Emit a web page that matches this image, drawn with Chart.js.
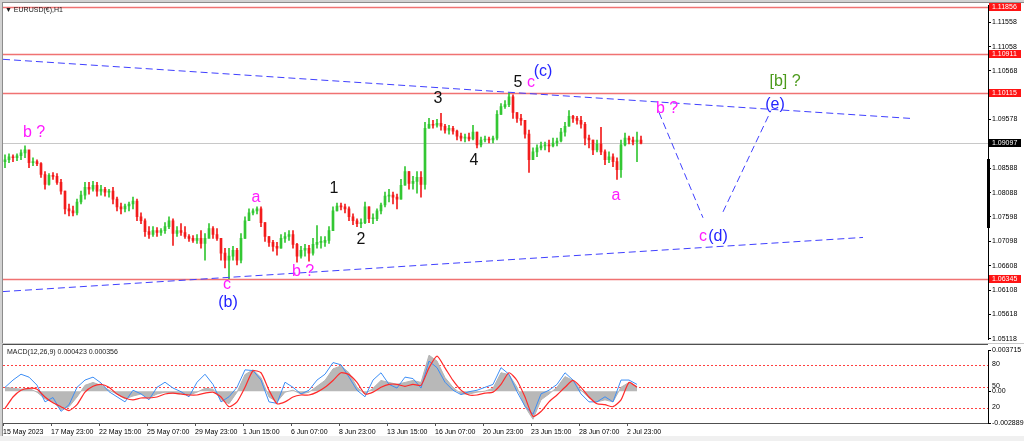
<!DOCTYPE html>
<html>
<head>
<meta charset="utf-8">
<title>EURUSD H1</title>
<script src="https://cdn.jsdelivr.net/npm/chart.js@4.4.1/dist/chart.umd.min.js"></script>
<style>
  html, body { margin: 0; padding: 0; }
  body { width: 1024px; height: 441px; overflow: hidden; position: relative; background: #fff;
         font-family: "Liberation Sans", Arial, sans-serif; }
  #priceChart { position: absolute; left: 0; top: 0; }
  #macdChart { position: absolute; left: 0; top: 345px; }
  .bar { position: absolute; }
  .cap { position: absolute; font-size: 7px; line-height: 8px; color: #1a1a1a; white-space: nowrap; }
</style>
</head>
<body>
<canvas id="priceChart" width="1024" height="345"></canvas>
<canvas id="macdChart" width="1024" height="96"></canvas>
<div class="bar" style="left:0;top:0;width:1024px;height:2px;background:#d2d2d2"></div>
<div class="bar" style="left:0;top:2px;width:1024px;height:1px;background:#8c8c8c"></div>
<div class="bar" style="left:0;top:0;width:2px;height:436px;background:#d2d2d2"></div>
<div class="bar" style="left:2px;top:2px;width:1px;height:434px;background:#8c8c8c"></div>
<div class="bar" style="left:0;top:343px;width:1024px;height:1px;background:#c8c8c8"></div>
<div class="bar" style="left:3px;top:344px;width:985px;height:1px;background:#505050"></div>
<div class="bar" style="left:0;top:436px;width:1024px;height:5px;background:#f0f0f0"></div>
<div class="bar" style="left:987px;top:159px;width:3px;height:69px;background:#000"></div>
<div class="cap" style="left:5px;top:6px">▼ EURUSD(€),H1</div>
<div class="cap" style="left:7px;top:348px">MACD(12,26,9) 0.000423 0.000356</div>

<script>
// price bars (each bar ~5 hours of the H1 chart)
const firstOpen = 1.0872;
const highs = [
  1.0886, 1.0888, 1.0886, 1.0888, 1.0896, 1.0904, 1.0892, 1.0880, 1.0876, 1.0870,
  1.0852, 1.0848, 1.0850, 1.0848, 1.0836, 1.0812, 1.0786, 1.0782, 1.0796, 1.0812,
  1.0830, 1.0830, 1.0832, 1.0830, 1.0824, 1.0820, 1.0816, 1.0820, 1.0800, 1.0788,
  1.0786, 1.0790, 1.0800, 1.0796, 1.0768, 1.0756, 1.0740, 1.0740, 1.0738, 1.0736,
  1.0748, 1.0760, 1.0756, 1.0740, 1.0746, 1.0740, 1.0724, 1.0722, 1.0724, 1.0732,
  1.0726, 1.0746, 1.0740, 1.0736, 1.0716, 1.0696, 1.0696, 1.0700, 1.0696, 1.0726,
  1.0760, 1.0776, 1.0776, 1.0780, 1.0780, 1.0748, 1.0720, 1.0712, 1.0708, 1.0724,
  1.0728, 1.0732, 1.0732, 1.0706, 1.0700, 1.0704, 1.0702, 1.0716, 1.0742, 1.0720,
  1.0720, 1.0740, 1.0780, 1.0788, 1.0788, 1.0786, 1.0780, 1.0766, 1.0756, 1.0756,
  1.0790, 1.0780, 1.0766, 1.0776, 1.0788, 1.0810, 1.0816, 1.0810, 1.0806, 1.0836,
  1.0862, 1.0852, 1.0842, 1.0852, 1.0852, 1.0952, 1.0960, 1.0956, 1.0958, 1.0970,
  1.0948, 1.0946, 1.0944, 1.0936, 1.0930, 1.0928, 1.0930, 1.0946, 1.0932, 1.0922,
  1.0924, 1.0922, 1.0924, 1.0976, 1.0990, 1.0996, 1.1012, 1.1008, 1.0972, 1.0968,
  1.0956, 1.0936, 1.0900, 1.0906, 1.0912, 1.0912, 1.0916, 1.0920, 1.0920, 1.0940,
  1.0952, 1.0976, 1.0966, 1.0964, 1.0964, 1.0952, 1.0926, 1.0916, 1.0916, 1.0942,
  1.0896, 1.0892, 1.0888, 1.0880, 1.0916, 1.0930, 1.0924, 1.0922, 1.0932, 1.0924
];
const lows = [
  1.0860, 1.0870, 1.0872, 1.0874, 1.0876, 1.0880, 1.0860, 1.0864, 1.0864, 1.0840,
  1.0816, 1.0824, 1.0836, 1.0826, 1.0806, 1.0766, 1.0762, 1.0762, 1.0764, 1.0786,
  1.0796, 1.0806, 1.0812, 1.0802, 1.0804, 1.0802, 1.0800, 1.0786, 1.0772, 1.0766,
  1.0770, 1.0772, 1.0776, 1.0752, 1.0746, 1.0720, 1.0716, 1.0720, 1.0720, 1.0722,
  1.0726, 1.0736, 1.0702, 1.0720, 1.0722, 1.0716, 1.0710, 1.0708, 1.0706, 1.0696,
  1.0672, 1.0722, 1.0716, 1.0712, 1.0672, 1.0656, 1.0634, 1.0672, 1.0662, 1.0666,
  1.0716, 1.0752, 1.0764, 1.0766, 1.0740, 1.0710, 1.0700, 1.0690, 1.0682, 1.0696,
  1.0708, 1.0712, 1.0696, 1.0668, 1.0676, 1.0680, 1.0670, 1.0682, 1.0696, 1.0696,
  1.0700, 1.0706, 1.0732, 1.0772, 1.0774, 1.0768, 1.0752, 1.0744, 1.0740, 1.0738,
  1.0746, 1.0748, 1.0746, 1.0752, 1.0766, 1.0780, 1.0790, 1.0786, 1.0776, 1.0796,
  1.0824, 1.0816, 1.0816, 1.0808, 1.0800, 1.0816, 1.0940, 1.0940, 1.0942, 1.0936,
  1.0930, 1.0928, 1.0928, 1.0916, 1.0914, 1.0912, 1.0914, 1.0916, 1.0900, 1.0902,
  1.0912, 1.0910, 1.0910, 1.0916, 1.0968, 1.0980, 1.0984, 1.0960, 1.0952, 1.0946,
  1.0920, 1.0850, 1.0876, 1.0882, 1.0896, 1.0896, 1.0892, 1.0902, 1.0904, 1.0912,
  1.0924, 1.0944, 1.0952, 1.0948, 1.0940, 1.0906, 1.0900, 1.0886, 1.0892, 1.0886,
  1.0866, 1.0870, 1.0862, 1.0836, 1.0840, 1.0904, 1.0908, 1.0906, 1.0872, 1.0908
];
const closes = [
  1.0876, 1.0882, 1.0880, 1.0884, 1.0890, 1.0896, 1.0870, 1.0872, 1.0868, 1.0846,
  1.0826, 1.0844, 1.0842, 1.0830, 1.0812, 1.0776, 1.0772, 1.0768, 1.0790, 1.0804,
  1.0820, 1.0816, 1.0824, 1.0812, 1.0816, 1.0810, 1.0812, 1.0796, 1.0780, 1.0776,
  1.0782, 1.0786, 1.0792, 1.0760, 1.0752, 1.0730, 1.0724, 1.0732, 1.0728, 1.0732,
  1.0740, 1.0752, 1.0726, 1.0732, 1.0728, 1.0720, 1.0716, 1.0712, 1.0716, 1.0706,
  1.0716, 1.0736, 1.0724, 1.0716, 1.0686, 1.0672, 1.0680, 1.0692, 1.0672, 1.0716,
  1.0752, 1.0768, 1.0772, 1.0776, 1.0748, 1.0720, 1.0708, 1.0700, 1.0696, 1.0716,
  1.0720, 1.0724, 1.0704, 1.0680, 1.0692, 1.0696, 1.0686, 1.0704, 1.0708, 1.0708,
  1.0712, 1.0732, 1.0772, 1.0782, 1.0780, 1.0776, 1.0760, 1.0752, 1.0746, 1.0748,
  1.0780, 1.0756, 1.0756, 1.0772, 1.0784, 1.0802, 1.0804, 1.0800, 1.0796, 1.0824,
  1.0852, 1.0828, 1.0832, 1.0840, 1.0826, 1.0940, 1.0948, 1.0946, 1.0950, 1.0944,
  1.0936, 1.0940, 1.0934, 1.0924, 1.0920, 1.0922, 1.0918, 1.0932, 1.0906, 1.0916,
  1.0918, 1.0916, 1.0920, 1.0968, 1.0984, 1.0988, 1.1004, 1.0972, 1.0960, 1.0956,
  1.0928, 1.0876, 1.0892, 1.0900, 1.0904, 1.0906, 1.0904, 1.0910, 1.0914, 1.0932,
  1.0944, 1.0964, 1.0960, 1.0956, 1.0948, 1.0920, 1.0916, 1.0896, 1.0908, 1.0892,
  1.0876, 1.0882, 1.0872, 1.0856, 1.0906, 1.0920, 1.0916, 1.0912, 1.0916, 1.09097
];

const priceTicks = [1.11558, 1.11058, 1.10568, 1.10078, 1.09578, 1.08588, 1.08088,
                    1.07598, 1.07098, 1.06608, 1.06108, 1.05618, 1.05118];
const levelPrices = [1.11856, 1.10911, 1.10115, 1.06345];
const lastPrice = closes[closes.length - 1];

const timeLabels = ["15 May 2023", "17 May 23:00", "22 May 15:00", "25 May 07:00", "29 May 23:00",
                    "1 Jun 15:00", "6 Jun 07:00", "8 Jun 23:00", "13 Jun 15:00", "16 Jun 07:00",
                    "20 Jun 23:00", "23 Jun 15:00", "28 Jun 07:00", "2 Jul 23:00"];
const barsPerLabel = 12;

// trend lines and the projected path, as (bar, price) pairs
const upperTrend = [{ x: 0, y: 1.1080 }, { x: 226.75, y: 1.0960 }];
const lowerTrend = [{ x: 0, y: 1.0608 }, { x: 215, y: 1.0718 }];
const pathDown = [{ x: 164, y: 1.0972 }, { x: 175, y: 1.0758 }];
const pathUp = [{ x: 180, y: 1.0770 }, { x: 192, y: 1.0976 }];

const MAGENTA = "#ff1aff", BLUE = "#2424ff", BLACK = "#111", GREEN = "#4c9a1c";
const waveLabels = [
  { text: "b ?", bar: 7.75, price: 1.0932, color: MAGENTA },
  { text: "a", bar: 63.25, price: 1.0800, color: MAGENTA },
  { text: "c", bar: 56, price: 1.0622, color: MAGENTA },
  { text: "(b)", bar: 56.25, price: 1.0586, color: BLUE },
  { text: "b ?", bar: 75, price: 1.0648, color: MAGENTA },
  { text: "1", bar: 82.75, price: 1.0818, color: BLACK },
  { text: "2", bar: 89.5, price: 1.0714, color: BLACK },
  { text: "3", bar: 108.75, price: 1.1000, color: BLACK },
  { text: "4", bar: 117.75, price: 1.0874, color: BLACK },
  { text: "5", bar: 128.75, price: 1.1032, color: BLACK },
  { text: "c", bar: 132, price: 1.1032, color: MAGENTA },
  { text: "(c)", bar: 135, price: 1.1056, color: BLUE },
  { text: "a", bar: 153.25, price: 1.0804, color: MAGENTA },
  { text: "b ?", bar: 166, price: 1.0980, color: MAGENTA },
  { text: "c", bar: 175, price: 1.0720, color: MAGENTA },
  { text: "(d)", bar: 178.75, price: 1.0720, color: BLUE },
  { text: "(e)", bar: 193, price: 1.0988, color: BLUE },
  { text: "[b] ?", bar: 195.5, price: 1.1034, color: GREEN }
];

// MACD panel, one value every 2 bars
const macdHist = [
  0.00035, 0.00026, 0.00018, 0.00026, -0.00009, -0.00070, -0.00097, -0.00167, -0.00141, -0.00053,
  0.00053, 0.00079, 0.00053, 0.00009, -0.00026, -0.00070, -0.00044, -0.00026, -0.00062, -0.00026,
  -0.00009, -0.00018, -0.00026, -0.00035, -0.00009, 0.00026, 0.00018, -0.00079, -0.00114, -0.00009,
  0.00150, 0.00194, 0.00123, -0.00053, -0.00097, -0.00009, 0.00009, -0.00026, -0.00009, 0.00044,
  0.00097, 0.00202, 0.00229, 0.00167, 0.00035, -0.00026, 0.00026, 0.00097, 0.00079, 0.00062,
  0.00079, 0.00097, 0.00079, 0.00326, 0.00273, 0.00123, 0.00035, -0.00026, -0.00026, -0.00009,
  0.00000, 0.00026, 0.00167, 0.00150, 0.00035, -0.00141, -0.00255, -0.00079, -0.00026, 0.00035,
  0.00132, 0.00097, 0.00009, -0.00062, -0.00097, -0.00079, -0.00097, 0.00035, 0.00079, 0.000423
];
const macdSignal = [
  -0.00158, -0.00053, 0.00009, 0.00026, 0.00018, -0.00053, -0.00106, -0.00141, -0.00176, -0.00123,
  -0.00009, 0.00044, 0.00062, 0.00035, -0.00026, -0.00062, -0.00079, -0.00062, -0.00062, -0.00053,
  -0.00026, -0.00018, -0.00026, -0.00035, -0.00035, -0.00018, -0.00009, -0.00053, -0.00141, -0.00097,
  0.00035, 0.00185, 0.00167, 0.00009, -0.00114, -0.00097, -0.00053, -0.00035, -0.00035, -0.00009,
  0.00035, 0.00097, 0.00167, 0.00150, 0.00079, -0.00026, -0.00009, 0.00035, 0.00062, 0.00062,
  0.00044, 0.00062, 0.00053, 0.00211, 0.00317, 0.00211, 0.00097, 0.00009, -0.00035, -0.00035,
  -0.00018, -0.00009, 0.00062, 0.00167, 0.00097, -0.00053, -0.00229, -0.00185, -0.00097, -0.00035,
  0.00035, 0.00097, 0.00035, -0.00053, -0.00114, -0.00123, -0.00141, -0.00079, 0.00079, 0.000356
];
const oscLine = [
  49, 59, 67, 63, 52, 29, 35, 16, 25, 49,
  59, 63, 55, 43, 36, 29, 45, 40, 32, 49,
  56, 48, 43, 36, 56, 67, 53, 29, 36, 49,
  73, 72, 59, 29, 27, 56, 49, 40, 45, 59,
  67, 83, 80, 63, 45, 36, 59, 69, 53, 48,
  63, 61, 48, 85, 76, 56, 45, 39, 43, 45,
  49, 53, 76, 67, 43, 23, 12, 40, 45, 53,
  69, 59, 40, 29, 29, 36, 29, 59, 59, 53
];
const macdTicks = [0.003715, 0, -0.002889];
const oscLevels = [80, 50, 20];

const UP = "#33c733", DOWN = "#f21c1c";
const FONT = '"Liberation Sans", Arial, sans-serif';
const X_MAX = 246.25;

Chart.defaults.font.family = FONT;
Chart.defaults.animation = false;
Chart.defaults.events = [];
Chart.defaults.plugins.legend.display = false;
Chart.defaults.plugins.tooltip.enabled = false;

const opens = closes.map((c, i) => (i === 0 ? firstOpen : closes[i - 1]));
const barColors = closes.map((c, i) => (c >= opens[i] ? UP : DOWN));
const wickData = closes.map((c, i) => ({ x: i + 0.5, y: [lows[i], highs[i]] }));
const bodyData = closes.map((c, i) => ({ x: i + 0.5, y: [Math.min(opens[i], c), Math.max(opens[i], c)] }));

function hLine(ctx, a, py) {
  ctx.beginPath();
  ctx.moveTo(a.left, py);
  ctx.lineTo(a.right, py);
  ctx.stroke();
}

const priceDecor = {
  id: "priceDecor",
  beforeDatasetsDraw(chart) {
    const { ctx, chartArea: a, scales: { y } } = chart;
    ctx.save();
    ctx.lineWidth = 1;
    ctx.strokeStyle = "#c8c8c8";
    hLine(ctx, a, Math.round(y.getPixelForValue(lastPrice)) + 0.5);
    ctx.lineWidth = 1.5;
    ctx.strokeStyle = "#f07272";
    levelPrices.forEach(p => hLine(ctx, a, Math.round(y.getPixelForValue(p)) + 0.5));
    ctx.restore();
  },
  afterDatasetsDraw(chart) {
    const { ctx, scales: { x, y } } = chart;
    ctx.save();
    ctx.font = "16px " + FONT;
    ctx.textAlign = "center";
    ctx.textBaseline = "middle";
    waveLabels.forEach(l => {
      ctx.fillStyle = l.color;
      ctx.fillText(l.text, x.getPixelForValue(l.bar), y.getPixelForValue(l.price));
    });
    ctx.restore();
  },
  afterDraw(chart) {
    const { ctx, chartArea: a, scales: { y } } = chart;
    ctx.save();
    ctx.font = "7px " + FONT;
    ctx.textBaseline = "middle";
    const tag = (price, bg) => {
      const py = Math.round(y.getPixelForValue(price));
      ctx.fillStyle = bg;
      ctx.fillRect(a.right + 1, py - 4, 32, 8);
      ctx.fillStyle = "#fff";
      ctx.fillText(price.toFixed(5), a.right + 4, py);
    };
    levelPrices.forEach(p => tag(p, "#ff1414"));
    tag(lastPrice, "#000");
    ctx.restore();
  }
};

const trendStyle = {
  type: "line", borderColor: "#4040ff", borderWidth: 1, borderDash: [7, 4],
  pointRadius: 0, fill: false, order: -1
};

new Chart(document.getElementById("priceChart"), {
  type: "bar",
  data: {
    datasets: [
      { data: bodyData, backgroundColor: barColors, barThickness: 2, minBarLength: 1, grouped: false, order: 0 },
      { data: wickData, backgroundColor: barColors, barThickness: 1, grouped: false, order: 1 },
      { ...trendStyle, data: upperTrend },
      { ...trendStyle, data: lowerTrend },
      { ...trendStyle, data: pathDown },
      { ...trendStyle, data: pathUp }
    ]
  },
  options: {
    responsive: false,
    layout: { padding: { top: 3, left: 3, bottom: 2, right: 0 } },
    scales: {
      x: { type: "linear", min: 0, max: X_MAX, offset: false, display: false },
      y: {
        position: "right", min: 1.0510, max: 1.1190,
        afterBuildTicks: s => { s.ticks = priceTicks.map(v => ({ value: v })); },
        afterFit: s => { s.width = 36; },
        ticks: { font: { size: 7 }, color: "#000", padding: 1, autoSkip: false,
                 callback: v => Number(v).toFixed(5) },
        grid: { drawOnChartArea: false, tickLength: 3, color: "#000" },
        border: { color: "#000" }
      }
    }
  },
  plugins: [priceDecor]
});

const macdDecor = {
  id: "macdDecor",
  beforeDatasetsDraw(chart) {
    const { ctx, chartArea: a, scales: { osc } } = chart;
    ctx.save();
    ctx.strokeStyle = "#ff4040";
    ctx.lineWidth = 1;
    ctx.setLineDash([2, 2]);
    oscLevels.forEach(v => hLine(ctx, a, Math.round(osc.getPixelForValue(v)) + 0.5));
    ctx.restore();
  },
  afterDraw(chart) {
    const { ctx, chartArea: a, scales: { osc } } = chart;
    ctx.save();
    ctx.font = "7px " + FONT;
    ctx.fillStyle = "#000";
    ctx.textBaseline = "middle";
    oscLevels.forEach(v => ctx.fillText(String(v), a.right + 4, osc.getPixelForValue(v) - 1));
    ctx.restore();
  }
};

const macdX = macdHist.map((v, k) => 2 * k + 0.5);

new Chart(document.getElementById("macdChart"), {
  type: "line",
  data: {
    datasets: [
      { data: macdSignal.map((v, k) => ({ x: macdX[k], y: v })), yAxisID: "macd",
        borderColor: "#ff2a2a", borderWidth: 1.2, pointRadius: 0, tension: 0.2, order: 0 },
      { data: oscLine.map((v, k) => ({ x: macdX[k], y: v })), yAxisID: "osc",
        borderColor: "#3d8ef5", borderWidth: 1, pointRadius: 0, tension: 0, order: 1 },
      { data: macdHist.map((v, k) => ({ x: macdX[k], y: v })), yAxisID: "macd",
        borderColor: "#b4b4b4", borderWidth: 1, backgroundColor: "#b8b8b8",
        fill: "origin", pointRadius: 0, tension: 0, order: 2 }
    ]
  },
  options: {
    responsive: false,
    layout: { padding: { top: 2, left: 3, bottom: 0, right: 0 } },
    scales: {
      x: {
        type: "linear", min: 0, max: X_MAX, offset: false, position: "bottom",
        afterBuildTicks: s => { s.ticks = timeLabels.map((t, k) => ({ value: k * barsPerLabel })); },
        afterFit: s => { s.height = 18; },
        ticks: { font: { size: 7 }, color: "#000", align: "start", padding: 2,
                 maxRotation: 0, autoSkip: false, callback: (v, i) => timeLabels[i] },
        grid: { drawOnChartArea: false, tickLength: 3, color: "#555" },
        border: { color: "#505050" }
      },
      osc: { display: false, min: 0, max: 100 },
      macd: {
        position: "right", min: -0.002889, max: 0.003715,
        afterBuildTicks: s => { s.ticks = macdTicks.map(v => ({ value: v })); },
        afterFit: s => { s.width = 36; },
        ticks: { font: { size: 7 }, color: "#000", padding: 1, autoSkip: false,
                 callback: v => (v === 0 ? "0.00" : Number(v).toFixed(6)) },
        grid: { drawOnChartArea: false, tickLength: 3, color: "#000" },
        border: { color: "#000" }
      }
    }
  },
  plugins: [macdDecor]
});
</script>
</body>
</html>
